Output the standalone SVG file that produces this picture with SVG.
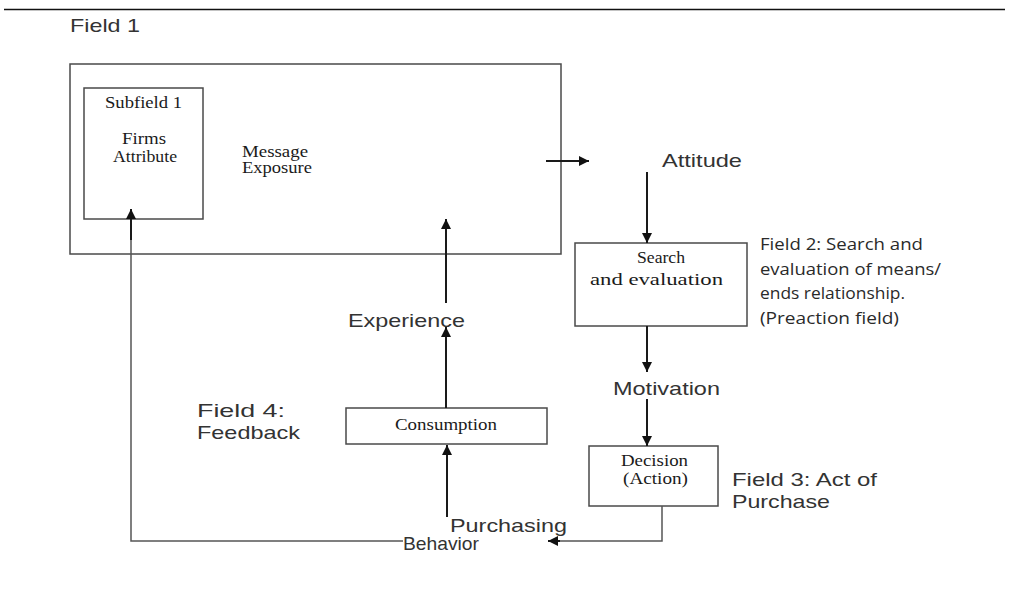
<svg xmlns="http://www.w3.org/2000/svg" width="1009" height="595" viewBox="0 0 1009 595">
  <style>
    .box { fill: #ffffff; stroke: #4a4a4a; stroke-width: 1.5; }
    .serif { font-family: "Liberation Serif", "Times New Roman", serif; font-size: 16px; fill: #1a1a1a; }
    .sans { font-family: "Liberation Sans", Arial, sans-serif; font-size: 19px; fill: #333333; }
    .calib { font-family: "Open Sans", "Noto Sans", sans-serif; font-size: 17px; fill: #2a2a2a; }
    .arrow { fill: none; stroke: #1a1a1a; stroke-width: 2; }
    .thin { fill: none; stroke: #555555; stroke-width: 1.5; }
  </style>
  <defs>
    <marker id="ah" viewBox="0 0 10 10" refX="10" refY="5" markerWidth="5" markerHeight="5" markerUnits="strokeWidth" orient="auto">
      <path d="M0,0 L10,5 L0,10 z" fill="#111111"/>
    </marker>
  </defs>
  <rect width="1009" height="595" fill="#ffffff"/>
  <line x1="4" y1="9.5" x2="1005" y2="9.5" stroke="#111111" stroke-width="1.5"/>
  <text class="sans" x="70" y="32" textLength="70" lengthAdjust="spacingAndGlyphs">Field 1</text>

  <g id="field1">
    <rect class="box" x="70" y="64" width="491" height="190"/>
    <text class="serif" x="242" y="157" textLength="66" lengthAdjust="spacingAndGlyphs">Message</text>
    <text class="serif" x="242" y="173" textLength="70" lengthAdjust="spacingAndGlyphs">Exposure</text>
  </g>
  <g id="subfield1">
    <rect class="box" x="84" y="88" width="119" height="131"/>
    <text class="serif" x="105" y="108" textLength="77" lengthAdjust="spacingAndGlyphs">Subfield 1</text>
    <text class="serif" x="122" y="144" textLength="44" lengthAdjust="spacingAndGlyphs">Firms</text>
    <text class="serif" x="113" y="162" textLength="64" lengthAdjust="spacingAndGlyphs">Attribute</text>
  </g>
  <g id="attitude">
    <text class="sans" x="662" y="167" font-size="18" textLength="80" lengthAdjust="spacingAndGlyphs">Attitude</text>
  </g>
  <g id="search">
    <rect class="box" x="575" y="243" width="172" height="83"/>
    <text class="serif" x="637" y="263" textLength="48" lengthAdjust="spacingAndGlyphs">Search</text>
    <text class="serif" x="590" y="285" textLength="133" lengthAdjust="spacingAndGlyphs">and evaluation</text>
  </g>
  <g id="field2">
    <text class="calib" x="760" y="250" textLength="163" lengthAdjust="spacingAndGlyphs">Field 2: Search and</text>
    <text class="calib" x="760" y="275" textLength="181" lengthAdjust="spacingAndGlyphs">evaluation of means/</text>
    <text class="calib" x="760" y="299" textLength="145" lengthAdjust="spacingAndGlyphs">ends relationship.</text>
    <text class="calib" x="760" y="324" textLength="139" lengthAdjust="spacingAndGlyphs">(Preaction field)</text>
  </g>
  <g id="motivation">
    <text class="sans" x="613" y="395" textLength="107" lengthAdjust="spacingAndGlyphs">Motivation</text>
  </g>
  <g id="decision">
    <rect class="box" x="589" y="446" width="129" height="60"/>
    <text class="serif" x="621" y="466" textLength="67" lengthAdjust="spacingAndGlyphs">Decision</text>
    <text class="serif" x="623" y="484" textLength="65" lengthAdjust="spacingAndGlyphs">(Action)</text>
  </g>
  <g id="field3">
    <text class="sans" x="732" y="486" textLength="145" lengthAdjust="spacingAndGlyphs">Field 3: Act of</text>
    <text class="sans" x="732" y="508" textLength="98" lengthAdjust="spacingAndGlyphs">Purchase</text>
  </g>
  <g id="purchasing">
    <text class="sans" x="450" y="532" textLength="117" lengthAdjust="spacingAndGlyphs">Purchasing</text>
    <text class="sans" x="403" y="550" font-size="15" textLength="76" lengthAdjust="spacingAndGlyphs">Behavior</text>
  </g>
  <g id="consumption">
    <rect class="box" x="346" y="408" width="201" height="36"/>
    <text class="serif" x="395" y="430" textLength="102" lengthAdjust="spacingAndGlyphs">Consumption</text>
  </g>
  <g id="experience">
    <text class="sans" x="348" y="327" textLength="117" lengthAdjust="spacingAndGlyphs">Experience</text>
  </g>
  <g id="field4">
    <text class="sans" x="197" y="417" textLength="88" lengthAdjust="spacingAndGlyphs">Field 4:</text>
    <text class="sans" x="197" y="439" textLength="103" lengthAdjust="spacingAndGlyphs">Feedback</text>
  </g>

  <g id="connectors">
    <line class="arrow" x1="546" y1="161" x2="589" y2="161" marker-end="url(#ah)"/>
    <line class="arrow" x1="647" y1="172" x2="647" y2="243" marker-end="url(#ah)"/>
    <line class="arrow" x1="647" y1="326" x2="647" y2="372" marker-end="url(#ah)"/>
    <line class="arrow" x1="647" y1="399" x2="647" y2="446" marker-end="url(#ah)"/>
    <polyline class="thin" points="662,506 662,541 556,541"/>
    <line class="arrow" x1="560" y1="541" x2="548" y2="541" marker-end="url(#ah)"/>
    <line class="arrow" x1="447" y1="517" x2="447" y2="445" marker-end="url(#ah)"/>
    <line class="arrow" x1="446" y1="408" x2="446" y2="327" marker-end="url(#ah)"/>
    <line class="arrow" x1="446" y1="303" x2="446" y2="219" marker-end="url(#ah)"/>
    <polyline class="thin" points="403,541 131,541 131,230"/>
    <line class="arrow" x1="131" y1="240" x2="131" y2="209" marker-end="url(#ah)"/>
  </g>
</svg>
